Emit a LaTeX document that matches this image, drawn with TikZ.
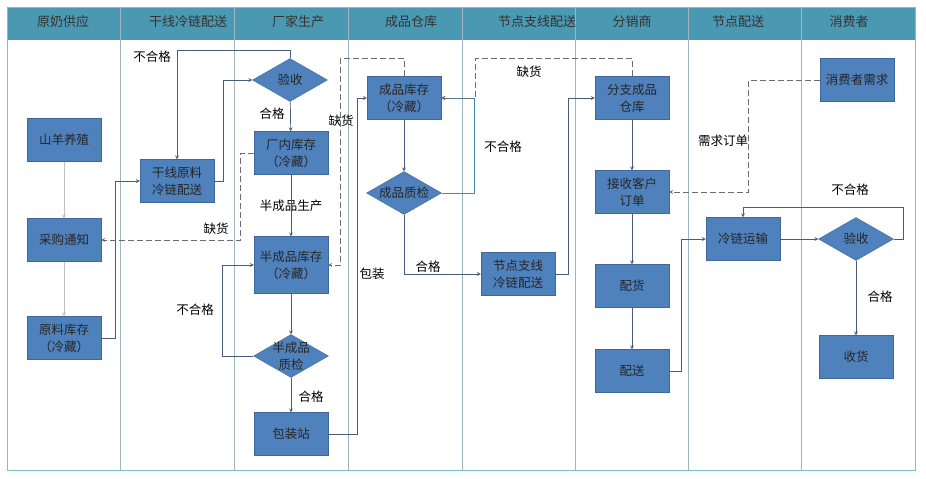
\documentclass[tikz,border=0pt]{standalone}
\usepackage{fontspec}
\setmainfont{Noto Sans CJK SC}
\usetikzlibrary{shapes.geometric, arrows, positioning, calc}
\definecolor{boxcolor}{RGB}{79,129,189}
\definecolor{boxborder}{RGB}{62,104,156}
\definecolor{headcolor}{RGB}{75,152,178}
\definecolor{lanecolor}{RGB}{160,180,192}
\definecolor{framecolor}{RGB}{125,192,202}
\definecolor{linecolor}{RGB}{72,92,122}
\definecolor{dashcolor}{RGB}{105,108,115}
\definecolor{faintcolor}{RGB}{190,192,198}
\definecolor{tealline}{RGB}{62,140,168}

\begin{document}
\begin{tikzpicture}[
    x=1pt, y=-1pt,
    font=\fontsize{12.5}{17}\selectfont,
    process/.style={rectangle, draw=boxborder, fill=boxcolor, minimum width=74pt, minimum height=43pt, align=center, inner sep=1pt, text=black!85},
    decision/.style={diamond, draw=boxborder, fill=boxcolor, minimum width=75pt, minimum height=43pt, aspect=1.75, inner sep=0pt, align=center, text=black!85},
    arrow/.style={->, >=stealth, linecolor, line width=0.7pt},
    faintarrow/.style={->, >=stealth, faintcolor, line width=0.7pt},
    tealarrow/.style={->, >=stealth, tealline, line width=0.9pt},
    dasharrow/.style={->, >=stealth, dashcolor, line width=0.7pt, dash pattern=on 6pt off 3pt},
    lanehead/.style={font=\fontsize{13}{15}\selectfont, text=black!80},
    lbl/.style={font=\fontsize{12.5}{14}\selectfont, text=black}
]
    \useasboundingbox (0,0) rectangle (926,479);
    \fill[white] (0,0) rectangle (926,479);

    % Swim lanes
    \fill[headcolor] (7,7) rectangle (915,40);
    \foreach \x in {120,234,348,462,575,688,801}
        \draw[lanecolor, line width=0.8pt] (\x,7) -- (\x,470);
    \draw[framecolor, line width=1pt] (7,7) rectangle (915,470);
    \foreach \x/\t [count=\i] in {63/原奶供应, 188/干线冷链配送, 298/厂家生产, 411/成品仓库, 537/节点支线配送, 632/分销商, 738/节点配送, 849/消费者}
        \node[lanehead] (head\i) at (\x,22) {\t};

    % Raw milk supply
    \node[process] (goat) at (64,140) {山羊养殖};
    \node[process] (purchase) at (64,240) {采购通知};
    \node[process] (rawstock) at (64,338) {原料库存\\（冷藏）};

    % Trunk cold chain
    \node[process] (trunk) at (177,181) {干线原料\\冷链配送};

    % Plant production
    \node[decision] (check) at (290,80) {验收};
    \node[process] (plantstock) at (291,153) {厂内库存\\（冷藏）};
    \node[process, minimum height=57pt] (semistock) at (291,265) {半成品库存\\（冷藏）};
    \node[decision, inner sep=-2.5pt] (semicheck) at (291,356) {半成品\\质检};
    \node[process] (packing) at (291,434) {包装站};

    % Finished goods warehouse
    \node[process] (finstock) at (404,98) {成品库存\\（冷藏）};
    \node[decision] (fincheck) at (404,193) {成品质检};

    % Branch distribution
    \node[process] (branch) at (518,274) {节点支线\\冷链配送};

    % Distributor
    \node[process] (branchstore) at (632,98) {分支成品\\仓库};
    \node[process] (order) at (632,192) {接收客户\\订单};
    \node[process] (picking) at (632,286) {配货};
    \node[process] (delivery) at (632,371) {配送};

    % Node delivery
    \node[process] (coldtrans) at (743,239) {冷链运输};

    % Consumer
    \node[process] (demand) at (857,80) {消费者需求};
    \node[decision] (recv) at (856,239) {验收};
    \node[process] (receipt) at (856,357) {收货};

    % Labels
    \node[lbl] (ngA) at (152,57) {不合格};
    \node[lbl] (okA) at (272,114) {合格};
    \node[lbl] (semiprod) at (291,206) {半成品生产};
    \node[lbl] (shortA) at (216,229) {缺货};
    \node[lbl] (ngB) at (195,310) {不合格};
    \node[lbl] (okB) at (311,397) {合格};
    \node[lbl] (shortB) at (341,121) {缺货};
    \node[lbl] (pack) at (372,274) {包装};
    \node[lbl] (ngC) at (503,147) {不合格};
    \node[lbl] (okC) at (428,267) {合格};
    \node[lbl] (shortC) at (529,72) {缺货};
    \node[lbl] (need) at (723,141) {需求订单};
    \node[lbl] (ngD) at (850,190) {不合格};
    \node[lbl] (okD) at (880,297) {合格};

    % Arrows
    \draw[faintarrow] (goat) -- (purchase);
    \draw[faintarrow] (purchase) -- (rawstock);
    \draw[arrow] (rawstock.east) -- ++(14,0) |- (trunk.west);
    \draw[arrow] (trunk.east) -- ++(9,0) |- (check.west);
    \draw[arrow] (check.north) -- ++(0,-8) -| (trunk.north);
    \draw[arrow] (check) -- (plantstock);
    \draw[arrow] (plantstock) -- (semistock);
    \draw[dasharrow] (plantstock.west) -- ++(-13,0) |- (purchase.east);
    \draw[arrow] (semistock) -- (semicheck);
    \draw[arrow] (semicheck.west) -- ++(-31,0) |- (semistock.west);
    \draw[arrow] (semicheck) -- (packing);
    \draw[arrow] (packing.east) -- ++(29,0) |- (finstock.west);
    \draw[dasharrow] (finstock.north) -- ++(0,-18) -| ([xshift=12pt]semistock.east) -- (semistock.east);
    \draw[arrow] (finstock) -- (fincheck);
    \draw[tealarrow] (fincheck.east) -- ++(33,0) |- (finstock.east);
    \draw[arrow] (fincheck.south) |- (branch.west);
    \draw[arrow] (branch.east) -- ++(13,0) |- (branchstore.west);
    \draw[dasharrow] (branchstore.north) -- ++(0,-18) -| ([xshift=34pt]finstock.east) -- (finstock.east);
    \draw[arrow] (branchstore) -- (order);
    \draw[arrow] (order) -- (picking);
    \draw[arrow] (picking) -- (delivery);
    \draw[arrow] (delivery.east) -- ++(12,0) |- (coldtrans.west);
    \draw[arrow] (coldtrans) -- (recv);
    \draw[arrow] (recv.east) -- ++(10,0) -- ++(0,-32) -| (coldtrans.north);
    \draw[arrow] (recv) -- (receipt);
    \draw[dasharrow] (demand.west) -- ++(-71,0) |- (order.east);

\end{tikzpicture}
\end{document}
